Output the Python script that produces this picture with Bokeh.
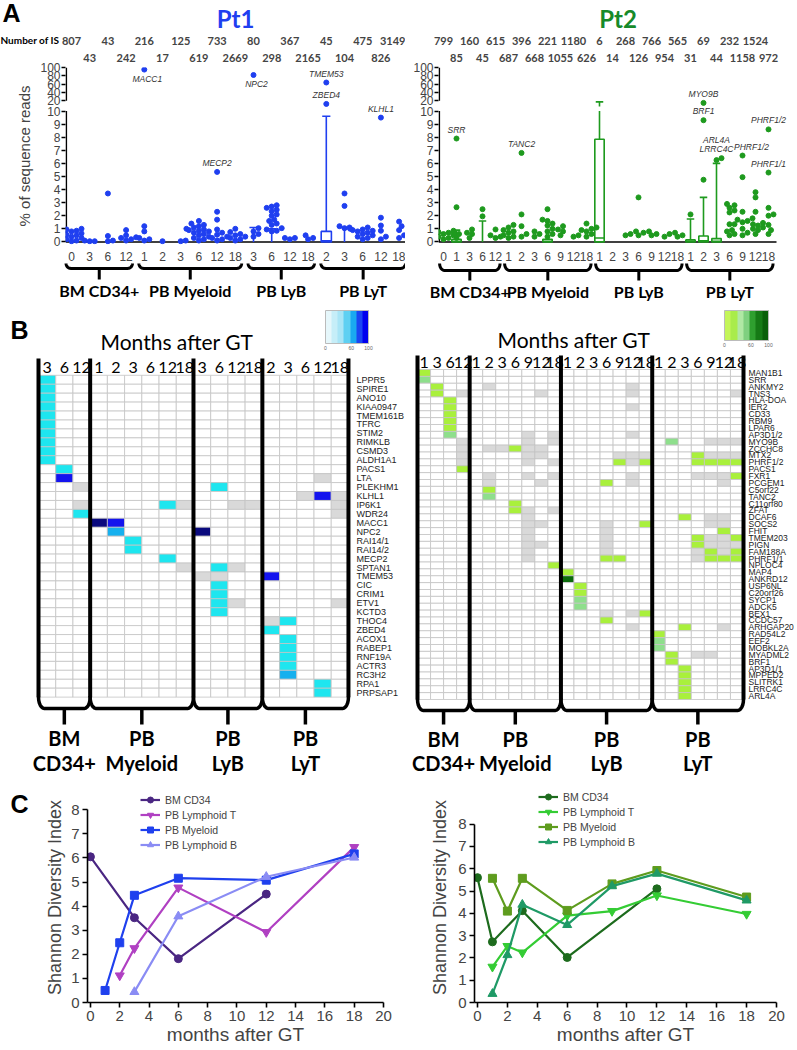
import math
from bokeh.plotting import figure
from bokeh.layouts import column, row
from bokeh.models import (Range1d, FixedTicker, LinearAxis, Title,
                          LinearColorMapper, ColorBar, Legend, LegendItem)
from bokeh.embed import file_html
from bokeh.resources import INLINE
from bokeh.core.properties import value

# ======================= DATA =======================
group_line1 = ["BM", "PB", "PB", "PB"]
group_line2 = ["CD34+", "Myeloid", "LyB", "LyT"]

# ---- Panel A : patient 1 ----
pt1_months = [[0, 3, 6, 12], [1, 2, 3, 6, 12, 18], [3, 6, 12, 18], [2, 3, 6, 12, 18]]
pt1_n_is = [807, 43, 43, 242, 216, 17, 125, 619, 733, 2669, 80, 298, 367, 2165, 45, 104, 475, 826, 3149]
pt1_reads = [
    [1.1, 1.0, 0.95, 0.85, 0.8, 0.7, 0.65, 0.6, 0.55, 0.5, 0.4, 0.3, 0.2, 0.1, 0.05],
    [0.1, 0.05, 0.05],
    [3.7, 0.45, 0.1, 0.05],
    [0.9, 0.5, 0.35, 0.3, 0.2, 0.1],
    [95, 1.2, 0.8, 0.3, 0.2, 0.1],
    [0.05],
    [0.1, 0.05],
    [1.6, 1.4, 1.3, 1.2, 1.1, 1.0, 0.95, 0.9, 0.85, 0.8, 0.7, 0.6, 0.5, 0.4, 0.3, 0.2, 0.1],
    [5.35, 2.3, 1.7, 0.95, 0.7, 0.55, 0.4, 0.3, 0.2, 0.1],
    [1.0, 0.75, 0.6, 0.5, 0.4, 0.3, 0.2, 0.1],
    [82, 1.05, 0.8, 0.6, 0.4],
    [2.8, 2.7, 2.6, 2.45, 2.35, 2.1, 2.0, 1.7, 1.6, 1.4, 1.3, 1.05, 0.95, 0.85, 0.8],
    [0.3, 0.3, 0.2],
    [0.5, 0.3, 0.2],
    [64, 17],
    [3.7, 2.75, 1.2, 1.1, 1.05],
    [1.1, 1.0, 0.95, 0.9, 0.85, 0.8, 0.7, 0.6, 0.5, 0.4, 0.3, 0.2],
    [9.5, 1.85, 1.25, 0.85, 0.4, 0.2],
    [1.55, 1.2, 0.9, 0.5, 0.3],
]
pt1_box_top = [0, 0, 0, 0, 0, 0, 0, 0, 0, 0, 0, 0, 0, 0, 0.8, 0, 0, 0, 0]
pt1_box_med = [0, 0, 0, 0, 0, 0, 0, 0, 0, 0, 0, 0, 0, 0, 0.1, 0, 0, 0, 0]
pt1_whisker = [0, 0, 0, 0, 0, 0, 0, 0, 0, 0, 1.1, 1.0, 0, 0, 9.6, 1.1, 0, 0, 0]
pt1_notes = [("MACC1", 4, 95, "below"), ("NPC2", 10, 82, "below"), ("TMEM53", 14, 64, "above"),
             ("ZBED4", 14, 17, "above"), ("KLHL1", 17, 9.5, "above"), ("MECP2", 8, 5.35, "above")]

# ---- Panel A : patient 2 ----
pt2_months = [[0, 1, 3, 6, 12], [1, 2, 3, 6, 9, 12, 18], [1, 2, 3, 6, 9, 12, 18], [1, 2, 3, 6, 9, 12, 18]]
pt2_n_is = [799, 85, 160, 45, 615, 687, 396, 668, 221, 1055, 1180, 626, 6, 14, 268, 126, 766, 954,
            565, 31, 69, 44, 232, 1158, 1524, 972]
pt2_reads = [
    [0.9, 0.85, 0.8, 0.75, 0.7, 0.6, 0.5, 0.4, 0.3, 0.2],
    [7.9, 2.65, 0.7, 0.6, 0.3],
    [0.95, 0.7, 0.6, 0.3],
    [2.5, 1.95],
    [0.95, 0.5, 0.4, 0.3],
    [1.3, 1.1, 0.9, 0.8, 0.7, 0.5, 0.4, 0.3],
    [6.8, 2.1, 1.2, 0.6, 0.4],
    [0.8, 0.6, 0.4],
    [2.5, 1.7, 1.6, 1.4, 1.25, 1.0, 0.8, 0.6, 0.4],
    [1.2, 0.95, 0.8, 0.5],
    [0.5, 0.4],
    [1.4, 1.1, 1.0, 0.9, 0.8, 0.6, 0.4],
    [],
    [],
    [0.6, 0.5],
    [3.4, 0.8, 0.7, 0.5],
    [0.8, 0.6, 0.5],
    [0.6, 0.4],
    [0.7, 0.5, 0.4],
    [2.1],
    [18, 9.3, 4.75],
    [6.25, 6.4],
    [2.9, 2.8, 2.6, 2.4, 2.25, 1.35, 1.35, 0.9, 0.8, 0.6, 0.5],
    [6.6, 4.95, 2.3, 1.8, 1.7, 1.6, 1.5, 1.0, 0.7, 0.5],
    [3.8, 3.4, 2.3, 1.45, 1.35, 1.25, 1.1, 1.0, 0.9, 0.6],
    [8.6, 5.3, 2.6, 2.1, 2.0, 1.3, 0.9, 0.6],
]
pt2_box_top = [0, 0.2, 0, 0, 0, 0, 0, 0, 0.2, 0, 0, 0, 7.85, 0, 0, 0, 0, 0, 0, 0.15, 0.45, 0.25, 0, 0, 0, 0]
pt2_box_med = [0, 0.05, 0, 0, 0, 0, 0, 0, 0.05, 0, 0, 0, 0.3, 0, 0, 0, 0, 0, 0, 0.05, 0.1, 0.05, 0, 0, 0, 0]
pt2_whisker = [0, 0.9, 0, 1.6, 0, 0, 0, 0, 0, 0, 0, 0, 19, 0, 0, 0, 0, 0, 0, 1.75, 3.4, 6.0, 0, 0, 0, 0]
pt2_notes = [("SRR", 1, 7.9, "above"), ("TANC2", 6, 6.8, "above"), ("MYO9B", 20, 18, "above"),
             ("BRF1", 20, 9.3, "above"), ("LRRC4C", 21, 6.4, "above"), ("ARL4A", 21, 6.4, "above2"),
             ("PHRF1/2", 23, 6.6, "above_r"), ("PHRF1/2", 25, 8.6, "above"), ("PHRF1/1", 25, 5.3, "above")]

# ---- Panel B : heat maps (column index + colour code) ----
pt1_hm_months = [[3, 6, 12], [1, 2, 3, 6, 12, 18], [3, 6, 12, 18], [2, 3, 6, 12, 18]]
pt1_genes = ["LPPR5", "SPIRE1", "ANO10", "KIAA0947", "TMEM161B", "TFRC", "STIM2", "RIMKLB", "CSMD3",
             "ALDH1A1", "PACS1", "LTA", "PLEKHM1", "KLHL1", "IP6K1", "WDR24", "MACC1", "NPC2",
             "RAI14/1", "RAI14/2", "MECP2", "SPTAN1", "TMEM53", "CIC", "CRIM1", "ETV1", "KCTD3",
             "THOC4", "ZBED4", "ACOX1", "RABEP1", "RNF19A", "ACTR3", "RC3H2", "RPA1", "PRPSAP1"]
pt1_cells = ["0c", "0c", "0c", "0c", "0c", "0c", "0c", "0c", "0c", "0c",
             "1c", "1b 16g", "2g 10c", "15g 16b 17g", "2g 7c 8g 11g 12g 17g", "2c 17g",
             "3n 4b", "4l 9n", "5c", "5c", "7c", "8g 10c 11g", "9g 10g 13b", "10c", "10c",
             "10c 11g 17g", "10c", "13g 14c", "13c", "14c", "14c", "14c", "14c", "14l", "16c", "16c"]
pt1_codes = {"g": "#d9d9d9", "c": "#1ee6ef", "l": "#16b0ee", "b": "#1414ee", "n": "#0a0a7e"}
pt1_bar_palette = ["#e6f7fb", "#c6eef8", "#a9e5f6", "#5fd0f2", "#1aa8f0", "#1a44f2", "#0000ee"]

pt2_hm_months = [[1, 3, 6, 12], [1, 2, 3, 6, 9, 12, 18], [1, 2, 3, 6, 9, 12, 18], [1, 2, 3, 6, 9, 12, 18]]
pt2_genes = ["MAN1B1", "SRR", "ANKMY2", "TNS3", "HLA-DOA", "IER2", "CD33", "RBM9", "LPAR6", "AP3D1/2",
             "MYO9B", "ZCCHC8", "MTX2", "PHRF1/2", "PACS1", "FXR1", "PCGEM1", "C5orf22", "TANC2",
             "C11orf80", "ZFAT", "DCAF6", "SOCS2", "FHIT", "TMEM203", "PIGN", "FAM188A", "PHRF1/1",
             "NPLOC4", "MAP4", "ANKRD12", "USP6NL", "C20orf26", "SYCP1", "ADCK5", "BEX1", "CCDC57",
             "ARHGAP20", "RAD54L2", "EEF2", "MOBKL2A", "MYADML2", "BRF1", "AP3D1/1", "MPPED2",
             "SLITRK1", "LRRC4C", "ARL4A"]
pt2_cells = ["0y", "0p", "1y 5g 16g", "1y 3g 9g 16g 24g", "2y", "2y 16g", "2y", "2y", "2y",
             "2p 8g 10g 16g", "3g 8g 10g 19p 22g 23g 24g", "3g 5g 6g 7y 8g 9g",
             "3g 8g 9g 15g 16g 17g 21y 22g 23g 24g", "3g 8g 10g 15y 16g 17y 21y 22y 23y 24y",
             "3y", "5g 8g 10g 16g 21g 22g 23g 24y", "5g 9g 14y 16g 23g", "5y", "5p", "7y",
             "7y 8g 10g", "8g 20y 22g 23g", "8g 9g 14g 17y 22g 23g", "8g 14g 23y",
             "8g 14g 21y 22g 23g 24y", "8g 9g 14g 21y 22g 23g 24g", "8g 14g 21g 22y 23g 24y",
             "8g 14y 15y 21g 22y 23y 24y", "10y", "11y", "11d", "12y", "12y", "12p", "12p",
             "14g 16g 17y", "14y", "16g 20y 23g", "18y", "18p", "18p", "19y 21g 22g", "19y",
             "20y", "20y", "20y", "20y", "20y"]
pt2_codes = {"g": "#d9d9d9", "y": "#a9f03c", "p": "#8edf8c", "d": "#0b6b0b"}
pt2_bar_palette = ["#c4f55a", "#a9ec4a", "#b0e8a4", "#7fd07f", "#2f9f2f", "#167a16", "#0a5f0a"]

# ---- Panel C : Shannon diversity ----
pt1_div = {
    "BM CD34": ([0, 3, 6, 12], [6.05, 3.52, 1.82, 4.5]),
    "PB Lymphoid T": ([2, 3, 6, 12, 18], [1.12, 2.25, 4.77, 2.92, 6.45]),
    "PB Myeloid": ([1, 2, 3, 6, 12, 18], [0.5, 2.48, 4.45, 5.16, 5.08, 6.17]),
    "PB Lymphoid B": ([3, 6, 12, 18], [0.44, 3.58, 5.22, 6.02]),
}
pt2_div = {
    "BM CD34": ([0, 1, 3, 6, 12], [5.6, 2.72, 4.12, 2.02, 5.1]),
    "PB Lymphoid T": ([1, 2, 3, 6, 9, 12, 18], [1.6, 2.53, 2.24, 3.9, 4.1, 4.8, 3.97]),
    "PB Myeloid": ([1, 2, 3, 6, 9, 12, 18], [5.57, 4.1, 5.57, 4.13, 5.32, 5.92, 4.73]),
    "PB Lymphoid B": ([1, 2, 3, 6, 9, 12, 18], [0.39, 2.13, 4.39, 3.48, 5.22, 5.78, 4.58]),
}
series_markers = {"BM CD34": "circle", "PB Lymphoid T": "inverted_triangle",
                  "PB Myeloid": "square", "PB Lymphoid B": "triangle"}
pt1_series_colors = {"BM CD34": "#4a2682", "PB Lymphoid T": "#b040c2",
                     "PB Myeloid": "#1f40ee", "PB Lymphoid B": "#8a8cf4"}
pt2_series_colors = {"BM CD34": "#1d6b1d", "PB Lymphoid T": "#34cc34",
                     "PB Myeloid": "#5e9c1e", "PB Lymphoid B": "#1f9a66"}

PT1_COLOR = "#1f3ff0"
PT2_COLOR = "#1e9a1e"

# ======================= LAYOUT CONSTANTS =======================
W_L, W_R = 405, 392
H_A, H_AB, H_B, H_C = 263, 42, 485, 260
A_TOP, A_BOT = 51, 15
GAP, TOPSPAN = 0.78, 2.55
ARIAL = "Liberation Sans"
CAL = "Lato"


def t(v):
    """broken-axis transform: 0-10 linear, 10-20 compressed gap, 20-100 compressed."""
    if v <= 10:
        return float(v)
    if v <= 20:
        return 10 + (v - 10) / 10 * GAP
    return 10 + GAP + (v - 20) / 80 * TOPSPAN


def base_fig(w, h, xr, yr, mbl, mbr, mbt, mbb):
    p = figure(width=w, height=h, x_range=xr, y_range=yr, output_backend="svg",
               toolbar_location=None, min_border_left=mbl, min_border_right=mbr,
               min_border_top=mbt, min_border_bottom=mbb, x_axis_location=None,
               y_axis_location=None, title=None)
    p.outline_line_color = None
    p.xgrid.visible = False
    p.ygrid.visible = False
    p.background_fill_color = None
    p.border_fill_color = None
    return p


def free_text(p, text, loc, size, font=ARIAL, style="bold"):
    """text outside the plot frame, carried by the title of an invisible colour bar"""
    cm = LinearColorMapper(palette=["#ffffff"], low=0, high=1)
    cb = ColorBar(color_mapper=cm, orientation="horizontal", width=1, height=1, location=loc,
                  title=text, title_text_font=font, title_text_font_size=size,
                  title_text_font_style=style, title_text_color="black", title_standoff=0,
                  scale_alpha=0, ticker=FixedTicker(ticks=[]), major_label_text_alpha=0,
                  major_tick_line_color=None, minor_tick_line_color=None, bar_line_color=None,
                  border_line_color=None, background_fill_alpha=0, padding=0, margin=0,
                  label_standoff=0)
    p.add_layout(cb, "center")


def cat_index(months):
    out, k = [], 0
    for g in months:
        out.append((k, k + len(g) - 1))
        k += len(g)
    return out


def swarm(vals, c, ppu, ppc, dot=5.0):
    placed, xs, ys = [], [], []
    for v in sorted(vals):
        y = t(v) * ppu
        for k in [0, 1, -1, 2, -2, 3, -3, 4, -4, 5, -5]:
            x = k * dot * 0.5
            if all((x - a) ** 2 + (y - b) ** 2 >= (dot * 0.9) ** 2 for a, b in placed):
                break
        placed.append((x, y))
        xs.append(c + x / ppc)
        ys.append(t(v))
    return xs, ys


def build_a(months, n_is, reads, box_top, box_med, whisker, notes, color, title, title_color,
            width, mbl, x_lo, ppc, axis_end, ylabel, box_hw):
    n = len(n_is)
    x_hi = x_lo + (width - mbl) / ppc
    p = base_fig(width, H_A, Range1d(x_lo, x_hi), Range1d(-0.2, t(100)), mbl, 0, A_TOP, A_BOT)
    ppu = (H_A - A_TOP - A_BOT) / (t(100) + 0.2)

    yvals = list(range(0, 11)) + [20, 40, 60, 80, 100]
    yax = LinearAxis(ticker=FixedTicker(ticks=[t(v) for v in yvals]),
                     major_label_overrides={t(v): str(v) for v in yvals})
    yax.axis_line_color = None
    yax.major_tick_out = 4
    yax.major_tick_in = 0
    yax.major_tick_line_width = 1.5
    yax.minor_tick_line_color = None
    yax.major_label_text_font = ARIAL
    yax.major_label_text_font_size = "12px"
    yax.major_label_standoff = 1
    if ylabel:
        yax.axis_label = ylabel
        yax.axis_label_text_font = ARIAL
        yax.axis_label_text_font_size = "15px"
        yax.axis_label_text_font_style = "normal"
        yax.axis_label_standoff = 4
    p.add_layout(yax, "left")
    xl = x_lo + 0.8 / ppc
    p.segment(x0=[xl, xl], y0=[0, t(20)], x1=[xl, xl], y1=[10, t(100)], line_color="black",
              line_width=1.6)

    month_labels = [str(m) for g in months for m in g]
    xax = LinearAxis(ticker=FixedTicker(ticks=list(range(n))),
                     major_label_overrides={i: month_labels[i] for i in range(n)})
    xax.axis_line_color = None
    xax.major_tick_line_color = None
    xax.minor_tick_line_color = None
    xax.major_label_standoff = 1
    xax.major_label_text_font = ARIAL
    xax.major_label_text_font_size = "12px"
    p.add_layout(xax, "below")
    p.segment(x0=[x_lo], y0=[0], x1=[axis_end], y1=[0], line_color="black", line_width=1.5)

    for parity in (1, 0):
        ticks = [i for i in range(n) if i % 2 == parity]
        ax = LinearAxis(ticker=FixedTicker(ticks=ticks),
                        major_label_overrides={i: str(n_is[i]) for i in ticks})
        ax.axis_line_color = None
        ax.major_tick_line_color = None
        ax.minor_tick_line_color = None
        ax.major_label_standoff = 0
        ax.major_label_text_font = CAL
        ax.major_label_text_font_style = "bold"
        ax.major_label_text_font_size = "11px"
        p.add_layout(ax, "above")
    p.add_layout(Title(text=title, align="center", text_font=CAL, text_font_size="24px",
                       text_font_style="bold", text_color=title_color, standoff=2), "above")

    for i in range(n):
        if whisker[i] > 0:
            w_top = min(whisker[i], 10)
            p.segment(x0=[i], y0=[t(box_top[i])], x1=[i], y1=[t(w_top)],
                      line_color=color, line_width=1.6)
            if whisker[i] > 10:
                p.segment(x0=[i], y0=[t(whisker[i]) - 0.35], x1=[i], y1=[t(whisker[i])],
                          line_color=color, line_width=1.6)
            p.segment(x0=[i - box_hw * 0.8], y0=[t(whisker[i])], x1=[i + box_hw * 0.8],
                      y1=[t(whisker[i])], line_color=color, line_width=1.6)
        if box_top[i] > 0:
            p.quad(left=[i - box_hw], right=[i + box_hw], bottom=[0], top=[t(box_top[i])],
                   fill_color="white", line_color=color, line_width=1.6)
            p.segment(x0=[i - box_hw], y0=[t(box_med[i])], x1=[i + box_hw], y1=[t(box_med[i])],
                      line_color=color, line_width=1.4)
    xs, ys = [], []
    for i in range(n):
        a, b = swarm(reads[i], i, ppu, ppc)
        xs += a
        ys += b
    p.scatter(xs, ys, size=5, marker="circle", fill_color=color, line_color=color)

    style = {"above": (0, -4, "bottom"), "above2": (0, -13, "bottom"),
             "below": (3, 4, "top"), "above_r": (9, -4, "bottom")}
    for gene, c, v, side in notes:
        dx, dy, base = style[side]
        p.text(x=[c], y=[t(v)], text=[gene], x_offset=dx, y_offset=dy, text_align="center",
               text_baseline=base, text_font=value(ARIAL), text_font_size="8.5px",
               text_font_style="italic", text_color="#333333")
    return p


def bracket_paths(spans, top, h, r_x):
    xs_list, ys_list = [], []
    for xs, xe in spans:
        px, py = [], []
        for k in range(7):
            th = math.pi / 2 * k / 6
            px.append(xs + r_x * (1 - math.cos(th)))
            py.append(top + (h - top) * math.sin(th))
        for k in range(6, -1, -1):
            th = math.pi / 2 * k / 6
            px.append(xe - r_x * (1 - math.cos(th)))
            py.append(top + (h - top) * math.sin(th))
        xs_list.append(px)
        ys_list.append(py)
    return xs_list, ys_list


def build_ab(months, width, mbl, x_lo, ppc, h_line, tick_end, lab_y, cap_top):
    xr = Range1d(x_lo - mbl / ppc, x_lo + (width - mbl) / ppc)
    p = base_fig(width, H_AB, xr, Range1d(H_AB, 0), 0, 0, 0, 0)
    spans = [(a - 0.3, b + 0.35) for a, b in cat_index(months)]
    mx, my = bracket_paths(spans, cap_top, h_line, 5 / ppc)
    p.multi_line(mx, my, line_color="black", line_width=3, line_cap="round", line_join="round")
    cx = [(a + b) / 2 for a, b in spans]
    p.segment(x0=cx, y0=[h_line] * 4, x1=cx, y1=[tick_end] * 4, line_color="black", line_width=3)
    names = [a + " " + b for a, b in zip(group_line1, group_line2)]
    p.text(x=cx, y=[lab_y] * 4, text=names, text_align="center", text_baseline="middle",
           text_font=value(CAL), text_font_style="bold", text_font_size="16px", text_color="black")
    return p


def build_b(months, genes, cells, codes, palette, width, grid_top, row_h, col_l, col_w, geo,
            gene_font, gene_gap, bar_pos, bar_size, letter=None):
    """whole panel drawn inside one frame; geo holds canvas pixel rows of the decorations"""
    ncol = sum(len(g) for g in months)
    nrow = len(genes)
    Y = lambda py: (grid_top - py) / row_h          # canvas px (from panel top) -> data y
    X = lambda px: (px - col_l) / col_w             # canvas px (from panel left) -> data x
    p = base_fig(width, H_B, Range1d(X(0), X(width)), Range1d(Y(H_B), Y(0)), 0, 0, 0, 0)

    cx, cy, cc = [], [], []
    for i, spec in enumerate(cells):
        filled = {}
        for tok in spec.split():
            filled[int(tok[:-1])] = codes[tok[-1]]
        for j in range(ncol):
            cx.append(j + 0.5)
            cy.append(-i - 0.5)
            cc.append(filled.get(j, "white"))
    p.rect(x=cx, y=cy, width=1, height=1, fill_color=cc, line_color="#c4c4c4", line_width=0.8)

    bounds = [0]
    for g in months:
        bounds.append(bounds[-1] + len(g))
    p.segment(x0=bounds, y0=[Y(geo["sep_top"])] * len(bounds), x1=bounds,
              y1=[-nrow] * len(bounds), line_color="black", line_width=4)

    mlabels = [str(m) for g in months for m in g]
    p.text(x=[j + 0.5 for j in range(ncol)], y=[Y(geo["header"])] * ncol, text=mlabels,
           text_align="center", text_baseline="middle", text_font=value(CAL),
           text_font_size="16px", text_color="black")
    p.text(x=[X(geo["title_x"])], y=[Y(geo["title_y"])], text=["Months after GT"],
           text_align="left", text_baseline="middle", text_font=value(CAL),
           text_font_size="21px", text_color="black")
    if letter:
        p.text(x=[X(10)], y=[Y(geo["letter_y"])], text=[letter], text_align="left",
               text_baseline="middle", text_font=value(ARIAL), text_font_style="bold",
               text_font_size="25px", text_color="black")

    p.text(x=[ncol + gene_gap / col_w] * nrow, y=[-i - 0.5 for i in range(nrow)], text=genes,
           text_align="left", text_baseline="middle", text_font=value(ARIAL),
           text_font_size=gene_font, text_color="#222222")

    h_line, tick_end = Y(geo["br_line"]), Y(geo["br_tick"])
    spans = [(bounds[k], bounds[k + 1]) for k in range(4)]
    mx, my = bracket_paths(spans, -nrow, h_line, 6 / col_w)
    p.multi_line(mx, my, line_color="black", line_width=3.5, line_cap="round", line_join="round")
    gx = [(a + b) / 2 for a, b in spans]
    p.segment(x0=gx, y0=[h_line] * 4, x1=gx, y1=[tick_end] * 4, line_color="black", line_width=3.5)
    p.text(x=gx, y=[Y(geo["lab1"])] * 4, text=group_line1, text_align="center",
           text_baseline="middle", text_font=value(CAL), text_font_style="bold",
           text_font_size="20px")
    p.text(x=gx, y=[Y(geo["lab2"])] * 4, text=group_line2, text_align="center",
           text_baseline="middle", text_font=value(CAL), text_font_style="bold",
           text_font_size="20px")

    cm = LinearColorMapper(palette=palette, low=0, high=100)
    cb = ColorBar(color_mapper=cm, orientation="horizontal", width=bar_size[0], height=bar_size[1],
                  location=bar_pos, ticker=FixedTicker(ticks=[0, 20, 60, 100]),
                  major_label_text_font_size="5px", major_label_text_color="#666666",
                  padding=0, margin=0, background_fill_alpha=0, border_line_color=None,
                  bar_line_color="#bbbbbb", major_tick_line_color=None, label_standoff=2)
    p.add_layout(cb, "center")
    return p


def build_c(div, colors, width, mbl, mbr, mbt, mbb, y_end, leg_loc, ylab_standoff):
    p = base_fig(width, H_C, Range1d(-0.2, 20), Range1d(0, y_end), mbl, mbr, mbt, mbb)
    ya = LinearAxis(ticker=FixedTicker(ticks=list(range(0, 9))), bounds=(0, 8))
    xa = LinearAxis(ticker=FixedTicker(ticks=list(range(0, 21, 2))), bounds=(-0.2, 20))
    for ax in (ya, xa):
        ax.axis_line_width = 1.6
        ax.major_tick_line_width = 1.6
        ax.major_tick_out = 5
        ax.major_tick_in = 0
        ax.minor_tick_line_color = None
        ax.major_label_text_font = ARIAL
        ax.major_label_text_font_size = "15px"
        ax.major_label_standoff = 3
        ax.axis_label_text_font = ARIAL
        ax.axis_label_text_font_size = "19px"
        ax.axis_label_text_font_style = "normal"
    ya.axis_label = "Shannon Diversity Index"
    ya.axis_label_text_font_size = "18px"
    ya.axis_label_standoff = ylab_standoff
    xa.axis_label = "months after GT"
    xa.axis_label_standoff = 0
    p.add_layout(ya, "left")
    p.add_layout(xa, "below")
    items = []
    for name, (xs, ys) in div.items():
        col = colors[name]
        l = p.line(xs, ys, line_color=col, line_width=2.2)
        mk = series_markers[name]
        s = p.scatter(xs, ys, marker=mk, size=9 if "triangle" in mk else 8,
                      fill_color=col, line_color=col)
        items.append(LegendItem(label=name, renderers=[l, s]))
    lg = Legend(items=items, location=leg_loc, background_fill_alpha=0, border_line_color=None,
                label_text_font=ARIAL, label_text_font_size="10.5px", glyph_width=20,
                glyph_height=15, label_height=15, spacing=0, padding=0, margin=0, label_standoff=5)
    p.add_layout(lg, "center")
    return p


# ======================= FIGURES =======================
PPC1, X0_1 = 18.2, (65 - 71) / 18.2
PPC2, X0_2 = 13.0, (438 - 443) / 13.0
fA1 = build_a(pt1_months, pt1_n_is, pt1_reads, pt1_box_top, pt1_box_med, pt1_whisker,
              pt1_notes, PT1_COLOR, "Pt1", "#1f3ff0", W_L, 65, X0_1, PPC1,
              X0_1 + 340 / PPC1, "% of sequence reads", 0.28)
fA2 = build_a(pt2_months, pt2_n_is, pt2_reads, pt2_box_top, pt2_box_med, pt2_whisker,
              pt2_notes, PT2_COLOR, "Pt2", "#168a2a", W_R, 33, X0_2, PPC2,
              X0_2 + (776 - 438) / PPC2, None, 0.36)
a_bottom = H_A - A_BOT
free_text(fA1, "A", (2 - 65, a_bottom - 31), "25px")
free_text(fA1, "Number of IS", (0 - 65, a_bottom - 50), "10px", font=CAL)

fAb1 = build_ab(pt1_months, W_L, 65, X0_1, PPC1, 5, 16, 27, 0)
fAb2 = build_ab(pt2_months, W_R, 33, X0_2, PPC2, 7, 17, 28, 0)

geo1 = {"sep_top": 358 - 305, "header": 367 - 305, "title_x": 100, "title_y": 341 - 305,
        "letter_y": 329 - 305, "br_line": 708 - 305, "br_tick": 724 - 305,
        "lab1": 737 - 305, "lab2": 762 - 305}
geo2 = {"sep_top": 355 - 305, "header": 362 - 305, "title_x": 92, "title_y": 339 - 305,
        "letter_y": 0, "br_line": 710 - 305, "br_tick": 724 - 305,
        "lab1": 738 - 305, "lab2": 762 - 305}
fB1 = build_b(pt1_hm_months, pt1_genes, pt1_cells, pt1_codes, pt1_bar_palette, W_L,
              374.8 - 305, 8.94, 38, 17.22, geo1, "9px", 8, (325, 438), (43, 33), letter="B")
fB2 = build_b(pt2_hm_months, pt2_genes, pt2_cells, pt2_codes, pt2_bar_palette, W_R,
              369 - 305, 6.875, 417 - 405, 13.04, geo2, "8.5px", 5, (319, 441), (44, 30))

fC1 = build_c(pt1_div, pt1_series_colors, W_L, 87, 22, 2, 48, 8 + 17.3 / 24.05, (53, 150), 3)
fC2 = build_c(pt2_div, pt2_series_colors, W_R, 69, 21, 2, 47, 8 + 32 / 22.54, (64, 153), 5)
free_text(fC1, "C", (10 - 87, (H_C - 2 - 48) - 26), "25px")

layout = column(row(fA1, fA2, spacing=0), row(fAb1, fAb2, spacing=0),
                row(fB1, fB2, spacing=0), row(fC1, fC2, spacing=0), spacing=0)
open("out.html", "w").write(file_html(layout, INLINE))
